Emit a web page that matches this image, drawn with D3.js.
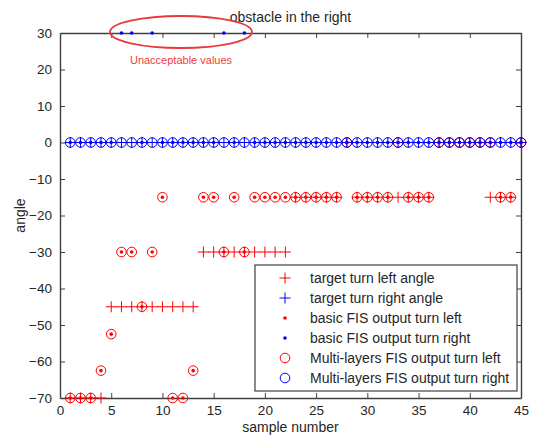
<!DOCTYPE html>
<html lang="en">
<head>
<meta charset="utf-8">
<title>obstacle in the right</title>
<script type="text/javascript" src="https://d3js.org/d3.v7.min.js"></script>
<style>
body { margin: 0; background: #fff; }
text { font-family: "Liberation Sans", Arial, sans-serif; fill: #262626; }
.axis path, .axis line { stroke: #404040; }
</style>
</head>
<body>
<div id="chart"></div>
<script type="text/javascript">

// sample number 1..45
var samples = d3.range(1, 46);

// target angles (0 where no left turn is asked)
var targetLeft = [-70, -70, -70, -70, -45, -45, -45, -45, -45, -45, -45, -45, -45,
  -30, -30, -30, -30, -30, -30, -30, -30, -30,
  -15, -15, -15, -15, -15, 0, -15, -15, -15, -15, -15, -15, -15, -15,
  0, 0, 0, 0, 0, -15, -15, -15, 0];
var targetRight = samples.map(function() { return 0; });

// basic FIS and multi-layers FIS give the same left output
var basicLeft = [-70, -70, -70, -62.5, -52.5, -30, -30, -45, -30, -15, -70, -70, -62.5,
  -15, -15, -30, -15, -30, -15, -15, -15, -15,
  -15, -15, -15, -15, -15, 0, -15, -15, -15, -15, 0, -15, -15, -15,
  0, 0, 0, 0, 0, 0, -15, -15, 0];
var multiLeft = basicLeft.slice();
var basicRight = [0, 0, 0, 0, 0, 30, 30, 0, 30, 0, 0, 0, 0, 0, 0, 30, 0, 30, 0, 0,
  0, 0, 0, 0, 0, 0, 0, 0, 0, 0, 0, 0, 0, 0, 0, 0, 0, 0, 0, 0, 0, 0, 0, 0, 0];
var multiRight = samples.map(function() { return 0; });

var xTicks = [0, 5, 10, 15, 20, 25, 30, 35, 40, 45];
var yTicks = [30, 20, 10, 0, -10, -20, -30, -40, -50, -60, -70];

var legendLabels = ["target turn left angle", "target turn right angle",
  "basic FIS output turn left", "basic FIS output turn right",
  "Multi-layers FIS output turn left", "Multi-layers FIS output turn right"];

var w = 534, h = 437;
var margin = {left: 60, right: 13, top: 33, bottom: 39};

var svg = d3.select("#chart").append("svg")
  .attr("width", w).attr("height", h);

var x = d3.scaleLinear().domain([0, 45]).range([margin.left, w - margin.right]);
var y = d3.scaleLinear().domain([-70, 30]).range([h - margin.bottom, margin.top]);

var red = "#ff0000", blue = "#0000ff";

// frame with inward ticks on all four sides
var axes = svg.append("g").attr("class", "axis");
axes.append("g").attr("transform", "translate(0," + y(-70) + ")")
  .call(d3.axisBottom(x).tickValues(xTicks).tickSizeInner(-5).tickSizeOuter(0).tickPadding(7))
  .selectAll("text").style("font-size", "13.5px");
axes.append("g").attr("transform", "translate(0," + y(30) + ")")
  .call(d3.axisTop(x).tickValues(xTicks).tickSizeInner(-5).tickSizeOuter(0).tickFormat(""));
axes.append("g").attr("transform", "translate(" + x(0) + ",0)")
  .call(d3.axisLeft(y).tickValues(yTicks).tickSizeInner(-5).tickSizeOuter(0).tickPadding(8))
  .selectAll("text").style("font-size", "13.5px");
axes.append("g").attr("transform", "translate(" + x(45) + ",0)")
  .call(d3.axisRight(y).tickValues(yTicks).tickSizeInner(-5).tickSizeOuter(0).tickFormat(""));
axes.selectAll("path.domain").attr("stroke-width", 1.4);

function plus(g, xs, ys, color) {
  var s = 5.5;
  g.selectAll(null).data(xs).enter().append("path")
    .attr("d", function(d, i) {
      var cx = x(d), cy = y(ys[i]);
      return "M" + (cx - s) + "," + cy + "H" + (cx + s) + "M" + cx + "," + (cy - s) + "V" + (cy + s);
    })
    .attr("stroke", color).attr("stroke-width", 1).attr("fill", "none");
}
function dots(g, xs, ys, color) {
  g.selectAll(null).data(xs).enter().append("circle")
    .attr("cx", function(d) { return x(d); })
    .attr("cy", function(d, i) { return y(ys[i]); })
    .attr("r", 1.8).attr("fill", color);
}
function rings(g, xs, ys, color) {
  g.selectAll(null).data(xs).enter().append("circle")
    .attr("cx", function(d) { return x(d); })
    .attr("cy", function(d, i) { return y(ys[i]); })
    .attr("r", 4.8).attr("fill", "none").attr("stroke", color).attr("stroke-width", 1);
}

var marks = svg.append("g");
plus(marks, samples, targetLeft, red);
plus(marks, samples, targetRight, blue);
dots(marks, samples, basicLeft, red);
dots(marks, samples, basicRight, blue);
rings(marks, samples, multiLeft, red);
rings(marks, samples, multiRight, blue);

// title and axis labels
svg.append("text").attr("x", (x(0) + x(45)) / 2).attr("y", 22)
  .attr("text-anchor", "middle").style("font-size", "14px").text("obstacle in the right");
svg.append("text").attr("x", (x(0) + x(45)) / 2).attr("y", 432)
  .attr("text-anchor", "middle").style("font-size", "14px").text("sample number");
svg.append("text").attr("transform", "translate(25," + y(-20) + ") rotate(-90)")
  .attr("text-anchor", "middle").style("font-size", "14px").text("angle");

// annotation
svg.append("ellipse").attr("cx", 181).attr("cy", 32).attr("rx", 71).attr("ry", 16)
  .attr("fill", "none").attr("stroke", "#e8393c").attr("stroke-width", 1.8);
svg.append("text").attr("x", 181).attr("y", 64).attr("text-anchor", "middle")
  .style("font-size", "11px").style("fill", "#f03c3c").text("Unacceptable values");

// legend
var lg = svg.append("g");
lg.append("rect").attr("x", 255).attr("y", 265).attr("width", 262).attr("height", 126)
  .attr("fill", "#fff").attr("stroke", "#404040").attr("stroke-width", 1.2);
var ly = function(i) { return 278 + i * 20; };
var legendColors = [red, blue, red, blue, red, blue];
legendLabels.forEach(function(lbl, i) {
  var cy = ly(i), cx = 285, c = legendColors[i];
  if (i < 2) {
    lg.append("path").attr("d", "M" + (cx - 5.5) + "," + cy + "H" + (cx + 5.5) + "M" + cx + "," + (cy - 5.5) + "V" + (cy + 5.5))
      .attr("stroke", c).attr("stroke-width", 1);
  } else if (i < 4) {
    lg.append("circle").attr("cx", cx).attr("cy", cy).attr("r", 1.8).attr("fill", c);
  } else {
    lg.append("circle").attr("cx", cx).attr("cy", cy).attr("r", 4.8)
      .attr("fill", "none").attr("stroke", c).attr("stroke-width", 1);
  }
  lg.append("text").attr("x", 310).attr("y", cy + 5).style("font-size", "14px").text(lbl);
});

</script>
</body>
</html>
